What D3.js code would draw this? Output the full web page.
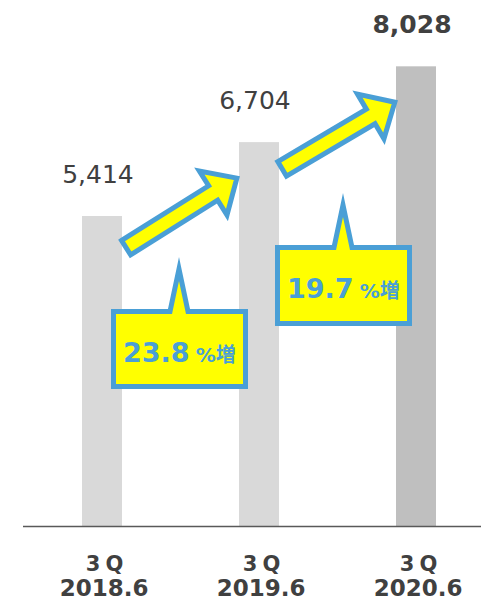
<!DOCTYPE html>
<html>
<head>
<meta charset="utf-8">
<script src="https://cdn.jsdelivr.net/npm/d3@7"></script>
<style>
  html, body { margin: 0; padding: 0; background: #ffffff; }
  svg { display: block; }
</style>
</head>
<body>
<div id="chart"></div>
<script>
// ---- data ----
const categories = ["2018.6", "2019.6", "2020.6"];
const quarterLabels = ["3Q", "3Q", "3Q"];
const values = [5414, 6704, 8028];
const growthRates = ["23.8", "19.7"];
const growthUnit = "%増";

// ---- layout ----
const W = 481, H = 600;
const BLUE = "#4a9fd6", YELLOW = "#ffff00", TEXT = "#404040";
const svg = d3.select("#chart").append("svg").attr("width", W).attr("height", H);

const x = d3.scalePoint().domain(categories).range([102, 416]);
const barW = 40;
const y = d3.scaleLinear().domain([0, 9000]).range([526, 526 - 9000 * 0.05726]);
const fmt = d3.format(",");

// bars
svg.selectAll("rect.bar").data(values).join("rect")
  .attr("class", "bar")
  .attr("x", (d, i) => x(categories[i]) - barW / 2)
  .attr("width", barW)
  .attr("y", d => y(d))
  .attr("height", d => y(0) - y(d))
  .attr("fill", (d, i) => i === values.length - 1 ? "#bfbfbf" : "#d9d9d9");

// axis
const axis = svg.append("g").attr("transform", `translate(0,${y(0)})`)
  .call(d3.axisBottom(x).tickSize(0).tickFormat(""));
axis.select(".domain").attr("d", "M23,0.5H481").attr("stroke", "#595959").attr("stroke-width", 1.3);

// value labels
svg.selectAll("text.val").data(values).join("text")
  .attr("class", "val")
  .attr("x", (d, i) => x(categories[i]) - 4)
  .attr("y", d => y(d) - 33)
  .attr("text-anchor", "middle")
  .attr("font-family", "DejaVu Sans, Verdana, sans-serif")
  .attr("font-size", 25)
  .attr("font-weight", (d, i) => i === values.length - 1 ? "bold" : "normal")
  .attr("fill", TEXT)
  .text(d => fmt(d));

// category labels
const cat = svg.selectAll("g.cat").data(categories).join("g").attr("class", "cat")
  .attr("transform", d => `translate(${x(d)},0)`);
cat.append("text")
  .attr("x", 5).attr("y", 571)
  .attr("text-anchor", "middle")
  .attr("font-family", "DejaVu Sans, Verdana, sans-serif")
  .attr("font-size", 21).attr("font-weight", "bold")
  .attr("letter-spacing", 5)
  .attr("fill", TEXT)
  .text((d, i) => quarterLabels[i]);
cat.append("text")
  .attr("x", 2).attr("y", 596)
  .attr("text-anchor", "middle")
  .attr("font-family", "DejaVu Sans, Verdana, sans-serif")
  .attr("font-size", 23).attr("font-weight", "bold")
  .attr("fill", TEXT)
  .text(d => d);

// ---- block arrows between bars ----
const arrowSpecs = [
  { tail: [x(categories[0]) + 22, y(values[0]) + 33], tip: [x(categories[1]) - 19, y(values[1]) + 34] },
  { tail: [x(categories[1]) + 21, y(values[1]) + 28], tip: [x(categories[2]) - 18, y(values[2]) + 34] }
];
function arrowPoints(s) {
  const [ox, oy] = s.tail, [tx, ty] = s.tip;
  const dx = tx - ox, dy = ty - oy, len = Math.hypot(dx, dy);
  const ux = dx / len, uy = dy / len, nx = -uy, ny = ux;
  const start = 2.5, end = len - 3.7;
  const sw = 8.5, hw = 26, hl = 28;
  const local = [
    [start, -sw], [end - hl, -sw], [end - hl, -hw], [end, 0],
    [end - hl, hw], [end - hl, sw], [start, sw]
  ];
  return local.map(([a, b]) => [ox + a * ux + b * nx, oy + a * uy + b * ny]);
}
svg.selectAll("polygon.arrow").data(arrowSpecs).join("polygon")
  .attr("class", "arrow")
  .attr("points", d => arrowPoints(d).map(p => p.join(",")).join(" "))
  .attr("fill", YELLOW).attr("stroke", BLUE).attr("stroke-width", 5)
  .attr("stroke-linejoin", "miter").attr("stroke-miterlimit", 10);

// ---- callout boxes ----
const callouts = [
  { x0: 111, y0: 309, x1: 248, y1: 389, tipX: 179, tipY: 257 },
  { x0: 275, y0: 245, x1: 412, y1: 326, tipX: 343, tipY: 193 }
];
function calloutPoints(c) {
  const i = 2.5;
  const X0 = c.x0 + i, Y0 = c.y0 + i, X1 = c.x1 - i, Y1 = c.y1 - i;
  const tY = c.tipY + 12, half = 9 * (Y0 - tY) / 42.5;
  return [[X0, Y0], [c.tipX - half, Y0], [c.tipX, tY], [c.tipX + half, Y0],
          [X1, Y0], [X1, Y1], [X0, Y1]];
}
svg.selectAll("polygon.callout").data(callouts).join("polygon")
  .attr("class", "callout")
  .attr("points", d => calloutPoints(d).map(p => p.join(",")).join(" "))
  .attr("fill", YELLOW).attr("stroke", BLUE).attr("stroke-width", 5)
  .attr("stroke-linejoin", "miter").attr("stroke-miterlimit", 10);

const ct = svg.selectAll("text.growth").data(callouts).join("text")
  .attr("class", "growth")
  .attr("x", d => d.x0 + 12).attr("y", d => d.y0 + 53)
  .attr("font-family", "DejaVu Sans, Verdana, 'Noto Sans CJK JP', sans-serif")
  .attr("font-weight", "bold").attr("fill", BLUE);
ct.append("tspan").attr("font-size", 27).text((d, i) => growthRates[i]);
ct.append("tspan").attr("font-size", 20).attr("dx", 6)
  .attr("font-family", "DejaVu Sans, 'Noto Sans CJK JP', sans-serif")
  .text(growthUnit);
</script>
</body>
</html>
